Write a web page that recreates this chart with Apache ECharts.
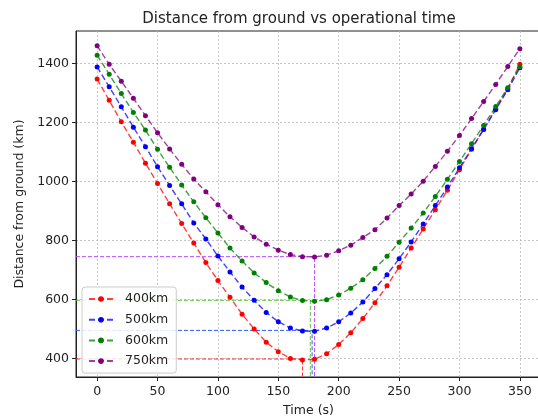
<!DOCTYPE html>
<html><head><meta charset="utf-8">
<script src="https://cdn.jsdelivr.net/npm/echarts@6/dist/echarts.min.js"></script>
<style>html,body{margin:0;padding:0;background:#fff}#c{width:538px;height:419px}</style>
</head><body><div id="c"></div>
<script>
const times = [0,10,20,30,40,50,60,70,80,90,100,110,120,130,140,150,160,170,180,190,200,210,220,230,240,250,260,270,280,290,300,310,320,330,340,350];
const d400 = [1348,1276,1203,1134,1063,994,925,858,792,726,665,608,551,501,456,424,401,396,398,417,448,488,536,590,647,710,775,840,905,971,1041,1110,1178,1247,1316,1398];
const d500 = [1389,1322,1254,1185,1119,1051,987,925,860,806,748,694,643,598,557,525,504,494,493,504,525,555,592,638,685,739,796,857,919,982,1047,1112,1177,1244,1312,1386];
const d600 = [1429,1364,1299,1235,1175,1110,1049,989,932,878,826,775,731,691,658,630,609,597,595,600,616,639,668,706,747,795,843,894,950,1008,1069,1129,1191,1255,1319,1390];
const d750 = [1461,1398,1341,1283,1224,1166,1111,1059,1009,966,922,881,845,813,788,768,753,746,745,751,766,785,811,837,877,919,958,1002,1052,1103,1157,1214,1272,1330,1391,1451];
const seriesNames = ['400km','500km','600km','750km'];
const minTimes = [170,178,176.5,180];
const minValues = [399,496,598,746];
const xTicks = [0,50,100,150,200,250,300,350];
const yTicks = [400,600,800,1000,1200,1400];
const xMin = -17.5, xMax = 367.5, yMin = 338, yMax = 1511;

const allData = [d400,d500,d600,d750];
const mainColors = ['#ff0000','#0000ff','#008000','#800080'];
const minColors = ['#ff2a2a','#2e5cff','#5cc93a','#c04cff'];
const font = 'DejaVu Sans';

const series = [];
allData.forEach((arr,i)=>{
  series.push({
    name: seriesNames[i], type:'line',
    data: times.map((t,j)=>[t,arr[j]]),
    symbol:'circle', symbolSize:5, showAllSymbol:true,
    itemStyle:{color:mainColors[i]},
    lineStyle:{color:mainColors[i], width:1.4, type:[6,3], opacity:0.75},
    z:3, animation:false
  });
});
minTimes.forEach((t,i)=>{
  series.push({
    type:'line', silent:true, symbol:'none',
    data:[[xMin,minValues[i]],[t,minValues[i]],[t,yMin]],
    lineStyle:{color:minColors[i], width:1, type:[4,2]},
    z:2, animation:false
  });
});

const chart = echarts.init(document.getElementById('c'), null, {renderer:'canvas'});
chart.setOption({
  animation:false,
  backgroundColor:'#fff',
  title:{text:'Distance from ground vs operational time', left:294, top:7, textAlign:'center',
    textStyle:{fontFamily:font, fontSize:15, fontWeight:'normal', color:'#222'}},
  legend:{
    data:seriesNames, orient:'vertical', left:82, top:287,
    itemWidth:24, itemHeight:7, itemGap:6.7,
    padding:[5,8,5,6],
    backgroundColor:'rgba(255,255,255,0.85)', borderColor:'#cccccc', borderWidth:1, borderRadius:3,
    textStyle:{fontFamily:font, fontSize:12.5, lineHeight:14, color:'#222', padding:[0,0,0,7]}
  },
  grid:{left:76, top:31, width:465, height:346, outerBoundsMode:'none', containLabel:false,
    show:true, borderColor:'#222', borderWidth:1, backgroundColor:'transparent'},
  xAxis:{
    type:'value', min:xMin, max:xMax,
    name:'Time (s)', nameLocation:'middle', nameGap:27,
    nameTextStyle:{fontFamily:font, fontSize:12.5, color:'#222'},
    axisLine:{show:true, onZero:false, lineStyle:{color:'#222', width:1}},
    axisTick:{show:true, inside:false, length:4, customValues:xTicks, lineStyle:{color:'#222'}},
    axisLabel:{customValues:xTicks, margin:8, fontFamily:font, fontSize:12.5, color:'#222', formatter:v=>String(v)},
    splitLine:{show:true, lineStyle:{color:'#b8b8b8', width:0.8, type:[2,2]}}
  },
  yAxis:{
    type:'value', min:yMin, max:yMax,
    name:'Distance from ground (km)', nameLocation:'middle', nameGap:45, nameRotate:90,
    nameTextStyle:{fontFamily:font, fontSize:12.5, color:'#222'},
    axisLine:{show:true, onZero:false, lineStyle:{color:'#222', width:1}},
    axisTick:{show:true, inside:false, length:4, customValues:yTicks, lineStyle:{color:'#222'}},
    axisLabel:{customValues:yTicks, margin:7, fontFamily:font, fontSize:12.5, color:'#222', formatter:v=>String(v)},
    splitLine:{show:true, lineStyle:{color:'#b8b8b8', width:0.8, type:[2,2]}}
  },
  series: series
});
</script></body></html>
